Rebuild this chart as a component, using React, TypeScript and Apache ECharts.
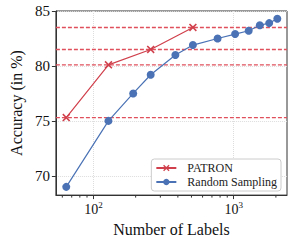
import React, { useEffect, useRef } from "react";
import * as echarts from "echarts";

const patronX = [64, 128, 256, 512];
const patronY = [75.3, 80.1, 81.5, 83.5];
const randomX = [64, 128, 192, 256, 384, 512, 768, 1024, 1280, 1536, 1792, 2048];
const randomY = [69.0, 75.0, 77.5, 79.2, 81.0, 81.9, 82.5, 82.9, 83.2, 83.7, 83.9, 84.3];
const yTicks = [70, 75, 80, 85];
const xTicks = [100, 1000];
const xMinorTicks = [60, 70, 80, 90, 200, 300, 400, 500, 600, 700, 800, 900, 2000];

const RED = "#d0404c";
const DASH_RED = "#e0505c";
const BLUE = "#4a72b5";
const FONT = "Liberation Serif";
const Y_MIN = 68.25;
const Y_MAX = 85;
const X_MIN = 54;
const X_MAX = 2400;

const X_SYMBOL =
  "path://M0,1.4 L1.4,0 L5,3.6 L8.6,0 L10,1.4 L6.4,5 L10,8.6 L8.6,10 L5,6.4 L1.4,10 L0,8.6 L3.6,5 Z";

export default function App() {
  const ref = useRef<HTMLDivElement>(null);
  useEffect(() => {
    if (!ref.current) return;
    const chart = echarts.init(ref.current, null, { renderer: "svg" });
    chart.setOption({
      animation: false,
      textStyle: { fontFamily: FONT },
      grid: {
        left: 43,
        right: 4,
        top: 11,
        bottom: 45,
        show: true,
        borderColor: "#333",
        borderWidth: 1,
        backgroundColor: "transparent",
      },
      legend: {
        orient: "vertical",
        right: 10,
        bottom: 51,
        data: ["PATRON", "Random Sampling"],
        backgroundColor: "#fff",
        borderColor: "#ccc",
        borderWidth: 1,
        borderRadius: 3,
        padding: [3, 4, 3, 4],
        itemGap: 2,
        itemWidth: 20,
        itemHeight: 8,
        formatter: "{t|{name}}",
        textStyle: {
          fontFamily: FONT,
          fontSize: 12,
          color: "#222",
          rich: { t: { fontFamily: FONT, fontSize: 12, color: "#222", padding: [0, 0, 0, 6] } },
        },
      },
      xAxis: {
        type: "log",
        logBase: 10,
        min: X_MIN,
        max: X_MAX,
        name: "Number of Labels",
        nameLocation: "middle",
        nameGap: 22,
        nameTextStyle: { fontFamily: FONT, fontSize: 16, color: "#111" },
        axisLine: { lineStyle: { color: "#333", width: 1 } },
        axisTick: {
          length: 4,
          lineStyle: { color: "#333" },
          customValues: xTicks,
        },
        axisLabel: {
          customValues: xTicks,
          margin: 5,
          formatter: (v: number) => `{b|10}{s|${Math.round(Math.log10(v))}}`,
          rich: {
            b: { fontFamily: FONT, fontSize: 14, color: "#111" },
            s: { fontFamily: FONT, fontSize: 9, color: "#111", padding: [0, 0, 9, 0] },
          },
        },
        splitLine: { show: true, lineStyle: { color: "#ddd", type: "dotted" } },
      },
      yAxis: {
        type: "value",
        min: Y_MIN,
        max: Y_MAX,
        splitNumber: 4,
        name: "Accuracy (in %)",
        nameLocation: "middle",
        nameGap: 26,
        nameTextStyle: { fontFamily: FONT, fontSize: 16, color: "#111" },
        axisLine: { show: true, lineStyle: { color: "#333", width: 1 } },
        axisTick: {
          show: true,
          length: 4,
          lineStyle: { color: "#333" },
          customValues: yTicks,
        },
        axisLabel: {
          customValues: yTicks,
          margin: 6,
          fontFamily: FONT,
          fontSize: 15,
          color: "#111",
        },
        splitLine: { show: true, lineStyle: { color: "#ddd", type: "dotted" } },
      },
      series: [
        {
          name: "refLines",
          type: "custom",
          silent: true,
          z: 3,
          data: patronY.map((v) => [X_MIN, v]),
          encode: { x: 0, y: 1 },
          itemStyle: { color: DASH_RED },
          renderItem: (params: any, api: any) => {
            const a = api.coord([X_MIN, api.value(1)]);
            const b = api.coord([X_MAX, api.value(1)]);
            return {
              type: "line",
              shape: { x1: a[0], y1: a[1], x2: b[0], y2: b[1] },
              style: { stroke: DASH_RED, fill: "none", lineWidth: 1.4, lineDash: [4, 2], opacity: 1 },
            };
          },
        },
        {
          name: "PATRON",
          type: "line",
          data: patronX.map((x, i) => [x, patronY[i]]),
          symbol: X_SYMBOL,
          symbolSize: 8,
          itemStyle: { color: RED },
          lineStyle: { color: RED, width: 1.2 },
          z: 4,
        },
        {
          name: "Random Sampling",
          type: "line",
          data: randomX.map((x, i) => [x, randomY[i]]),
          symbol: "circle",
          symbolSize: 8,
          itemStyle: { color: BLUE },
          lineStyle: { color: BLUE, width: 1.2 },
          z: 5,
        },
        {
          name: "minor",
          type: "custom",
          clip: false,
          silent: true,
          data: xMinorTicks.map((v) => [v, Y_MIN]),
          encode: { x: 0, y: 1 },
          renderItem: (params: any, api: any) => {
            const p = api.coord([api.value(0), api.value(1)]);
            return {
              type: "line",
              shape: { x1: p[0], y1: p[1], x2: p[0], y2: p[1] + 2.5 },
              style: { stroke: "#333", lineWidth: 1 },
            };
          },
        },
      ],
    });
    return () => chart.dispose();
  }, []);
  return (
    <div
      ref={ref}
      style={{ position: "absolute", left: 0, top: 0, width: 291, height: 242 }}
    />
  );
}
